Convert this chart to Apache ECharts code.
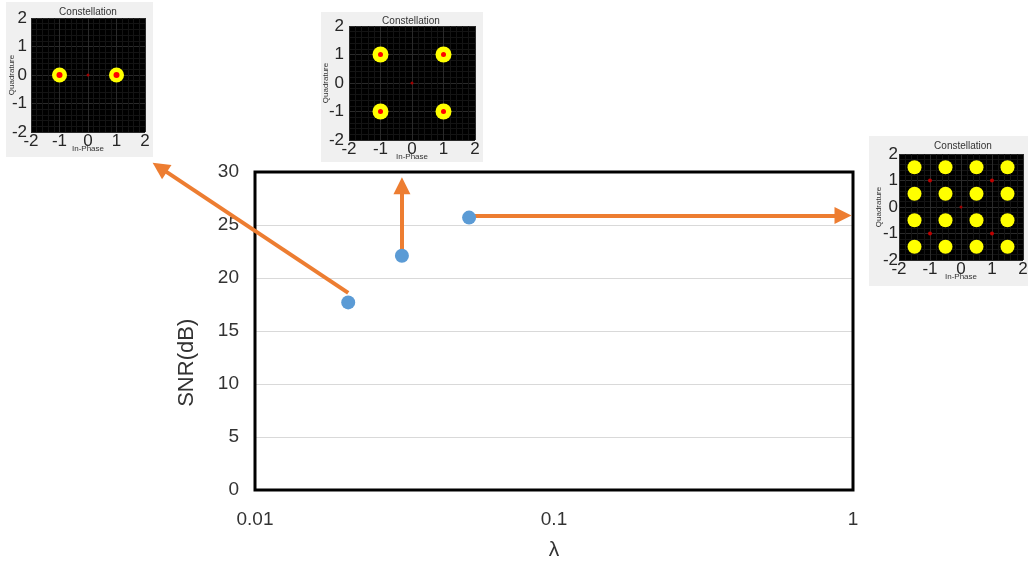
<!DOCTYPE html>
<html>
<head>
<meta charset="utf-8">
<script src="https://cdn.jsdelivr.net/npm/echarts@6/dist/echarts.min.js"></script>
<style>
html,body{margin:0;padding:0;background:#fff;}
#c{width:1028px;height:561px;}
</style>
</head>
<body>
<div id="c"></div>
<script>
// ---- main chart data ----
const lambdaVals = [0.0205, 0.031, 0.052];
const snrVals = [17.7, 22.1, 25.7];
const xTickLabels = {'0.01': '0.01', '0.1': '0.1', '1': '1'};
const yAxisTitle = 'SNR(dB)';
const yAxisTitleAt = 12;   // data value where the rotated y title is centred
// arrows (data units): start and arrow-head centre points
const arrowStart = [[0.0205, 18.6], [0.031, 22.4], [0.052, 25.9]];
const arrowEnd   = [[0.0048, 30.43], [0.031, 28.7], [0.926, 25.9]];

// ---- constellation insets ----
const bpskClusters = [[-1, 0], [1, 0]];
const bpskRefs = [[-1, 0], [1, 0]];
const qpskClusters = [[-1, 1], [1, 1], [-1, -1], [1, -1]];
const qpskRefs = [[-1, 1], [1, 1], [-1, -1], [1, -1]];
const qam16Clusters = [
  [-1.5, 1.5], [-0.5, 1.5], [0.5, 1.5], [1.5, 1.5],
  [-1.5, 0.5], [-0.5, 0.5], [0.5, 0.5], [1.5, 0.5],
  [-1.5, -0.5], [-0.5, -0.5], [0.5, -0.5], [1.5, -0.5],
  [-1.5, -1.5], [-0.5, -1.5], [0.5, -1.5], [1.5, -1.5]
];
const qam16Refs = [[-1, 1], [1, 1], [-1, -1], [1, -1]];
const originRef = [[0, 0]];
const insetTitle = 'Constellation';
const insetXName = 'In-Phase';
const insetYName = 'Quadrature';

const FONT = 'Liberation Sans, Arial, sans-serif';

const insets = [
  {grid: {left: 31, top: 18, width: 114, height: 114}, clusters: bpskClusters, refs: bpskRefs, cs: 15, rs: 6, title: {x: 88, y: 7}, panel: [6, 2, 147, 155], ygap: 15, ym: 4},
  {grid: {left: 349, top: 26, width: 126, height: 114}, clusters: qpskClusters, refs: qpskRefs, cs: 16, rs: 5, title: {x: 411, y: 16}, panel: [321, 12, 162, 150], ygap: 19, ym: 5},
  {grid: {left: 899, top: 154, width: 124, height: 106}, clusters: qam16Clusters, refs: qam16Refs, cs: 14, rs: 4, title: {x: 963, y: 141}, panel: [869, 136, 159, 150], ygap: 16, ym: 1}
];

const grids = [{left: 255, top: 172, width: 598, height: 318, show: true, borderColor: '#000', borderWidth: 3, z: 2, outerBoundsMode: 'none', containLabel: false}];
const xAxes = [{
  gridIndex: 0, type: 'log', logBase: 10, min: 0.01, max: 1, z: 0,
  name: 'λ', nameLocation: 'middle', nameGap: 50, nameMoveOverlap: false,
  nameTextStyle: {fontFamily: FONT, fontSize: 21, color: '#333'},
  axisLine: {show: false}, axisTick: {show: false}, splitLine: {show: false},
  axisLabel: {fontFamily: FONT, fontSize: 19, color: '#333', margin: 20,
    formatter: v => xTickLabels[String(+v.toPrecision(3))] || String(v)}
}];
const yAxes = [{
  gridIndex: 0, type: 'value', min: 0, max: 30, interval: 5, z: 0,
  axisLine: {show: false}, axisTick: {show: false},
  splitLine: {lineStyle: {color: '#d9d9d9', width: 1}},
  axisLabel: {fontFamily: FONT, fontSize: 19, color: '#333', margin: 16}
}];
const series = [
  {
    type: 'lines', coordinateSystem: 'cartesian2d', xAxisIndex: 0, yAxisIndex: 0,
    clip: false, z: 5, silent: true,
    symbol: ['none', 'triangle'], symbolSize: [0, 17],
    lineStyle: {color: '#ed7d31', width: 4, opacity: 1},
    itemStyle: {color: '#ed7d31'},
    data: arrowStart.map((s, i) => ({coords: [s, arrowEnd[i]]}))
  },
  {
    type: 'scatter', xAxisIndex: 0, yAxisIndex: 0, z: 6,
    symbolSize: 14, itemStyle: {color: '#5b9bd5', opacity: 1},
    data: lambdaVals.map((x, i) => [x, snrVals[i]])
  }
];
const titles = [];
const graphics = [];

insets.forEach((ins, k) => {
  const gi = k + 1;
  grids.push(Object.assign({show: true, backgroundColor: '#000', borderWidth: 0, z: 1, outerBoundsMode: 'none', containLabel: false}, ins.grid));
  const common = {
    gridIndex: gi, type: 'value', min: -2, max: 2, interval: 1, z: 3,
    axisLine: {show: false}, axisTick: {show: false},
    splitLine: {show: true, lineStyle: {color: '#2a2a2a', width: 1}},
    minorTick: {show: false, splitNumber: 5},
    minorSplitLine: {show: true, lineStyle: {color: '#141414', width: 1}},
    nameMoveOverlap: false,
    nameTextStyle: {fontFamily: FONT, fontSize: 8, color: '#333'}
  };
  xAxes.push(Object.assign({}, common, {
    name: insetXName, nameLocation: 'middle', nameGap: 13,
    axisLabel: {fontFamily: FONT, fontSize: 17, color: '#262626', margin: 1, showMinLabel: true, showMaxLabel: true}
  }));
  yAxes.push(Object.assign({}, common, {
    name: insetYName, nameLocation: 'middle', nameGap: ins.ygap,
    axisLabel: {fontFamily: FONT, fontSize: 17, color: '#262626', margin: ins.ym, showMinLabel: true, showMaxLabel: true}
  }));
  series.push({
    type: 'scatter', xAxisIndex: gi, yAxisIndex: gi, z: 4, silent: true,
    symbolSize: ins.cs, itemStyle: {color: '#ffff00', opacity: 1},
    data: ins.clusters
  });
  series.push({
    type: 'scatter', xAxisIndex: gi, yAxisIndex: gi, z: 5, silent: true,
    symbolSize: ins.rs, itemStyle: {color: k === 2 ? '#c00000' : '#ff0000', opacity: 1},
    data: ins.refs
  });
  series.push({
    type: 'scatter', xAxisIndex: gi, yAxisIndex: gi, z: 5, silent: true,
    symbolSize: 3, itemStyle: {color: '#a00000', opacity: 1},
    data: originRef
  });
  titles.push({
    text: insetTitle, left: ins.title.x, top: ins.title.y, textAlign: 'center', padding: 0,
    textStyle: {fontFamily: FONT, fontSize: 10, fontWeight: 'normal', color: '#333'}
  });
  graphics.push({
    type: 'rect', z: -10, silent: true,
    shape: {x: ins.panel[0], y: ins.panel[1], width: ins.panel[2], height: ins.panel[3]},
    style: {fill: '#f0f0f0'}
  });
});

const chart = echarts.init(document.getElementById('c'), null, {renderer: 'canvas'});
chart.setOption({
  animation: false,
  backgroundColor: '#fff',
  title: titles,
  graphic: graphics,
  grid: grids,
  xAxis: xAxes,
  yAxis: yAxes,
  series: series
});
// rotated y-axis title placed from the axis scale
const yPix = chart.convertToPixel({yAxisIndex: 0}, yAxisTitleAt);
const gridLeft = grids[0].left;
chart.setOption({
  graphic: graphics.concat([{
    type: 'text', silent: true, x: gridLeft - 68, y: yPix, rotation: Math.PI / 2,
    style: {text: yAxisTitle, fontFamily: FONT, fontSize: 22, fill: '#333', align: 'center', verticalAlign: 'middle'}
  }])
});
</script>
</body>
</html>
